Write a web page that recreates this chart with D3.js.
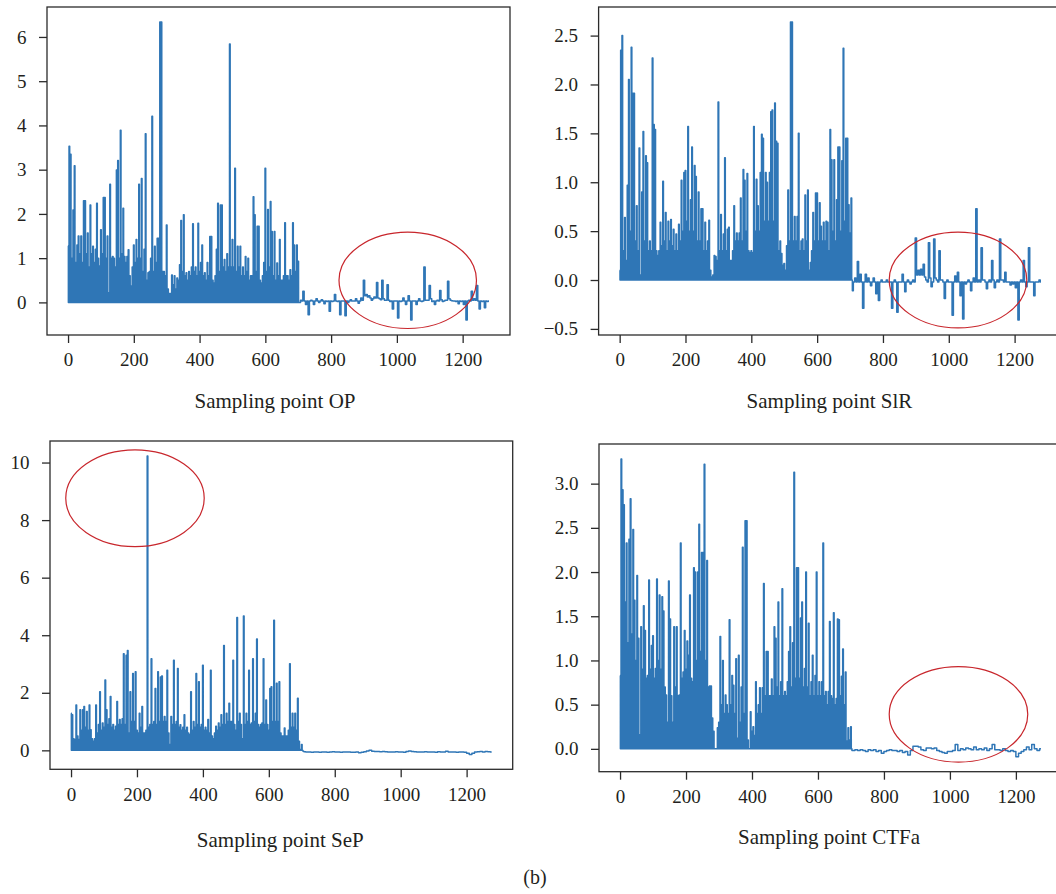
<!DOCTYPE html>
<html><head><meta charset="utf-8">
<script src="https://cdn.jsdelivr.net/npm/d3@7"></script>
<style>
body{margin:0;background:#fff}
svg{display:block}
text{font-family:"Liberation Serif","Times New Roman",serif;fill:#231f20}
</style>
</head><body>
<svg id="chart" width="1056" height="894"></svg>
<script>
// ---- sampling layout of the series (index -> sampling point) ----
const headStep = 2, tailStart = 708;
const opTailStep = 4, slrTailStep = 4, sepTailStep = 8, ctfTailStep = 8;
const xTickValues = [0, 200, 400, 600, 800, 1000, 1200];

// ---- OP ----
const opHead = [1.28,0,3.53,0,3.35,0,1.0,0,2.09,0,3.09,0,0.9,0,1.3,0,1.5,0,1.1,0,1.5,0,0.9,0,2.3,0,2.3,0,1.1,0,1.57,0,0.8,0,2.2,0,1.1,0,1.27,0,0.9,0,1.2,0,2.24,0,1.0,0,0.82,0,1.64,0,1.1,0,2.37,0,2.37,0,1.0,0,1.5,0,0.22,0,2.67,0,1.0,0,1.04,0,1.0,0,0.8,0,2.99,0,3.21,0,1.0,0,3.89,0,1.1,0,2.13,0,1.04,0,0.9,0,1.04,0,1.19,0,0.6,0,0.37,0,0.8,0,1.3,0,0.9,0,1.42,0,1.0,0,2.67,0,1.0,0,2.8,0,0.7,0,1.2,0,3.81,0,0.5,0,0.67,0,0.7,0,1.0,0,4.21,0,0.7,0,1.27,0,0.9,0,1.45,0,1.45,0,6.34,0,6.34,0,0.7,0,0.7,0,0.6,0,1.75,0,0.3,0,0.2,0,0.2,0,0.62,0,0.4,0,0.6,0,0.3,0,0.55,0,0.5,0,0.85,0,1.85,0,0.7,0,1.98,0,0.6,0,0.67,0,0.5,0,0.7,0,0.6,0,0.8,0,1.78,0,0.7,0,0.8,0,0.6,0,1.79,0,0.7,0,0.9,0,1.3,0,0.6,0,0.67,0,0.5,0,0.9,0,0.6,0,1.49,0,1.49,0,0.5,0,0.44,0,0.6,0,1.2,0,2.24,0,0.7,0,2.2,0,2.2,0,0.8,0,0.97,0,0.7,0,1.1,0,0.8,0,5.84,0,0.8,0,1.42,0,0.8,0,3.03,0,0.7,0,1.27,0,0.8,0,1.27,0,0.6,0,0.8,0,0.6,0,1.04,0,0.7,0,1.0,0,0.5,0,0.6,0,0.6,0,2.39,0,1.98,0,0.7,0,1.72,0,1.72,0,0.5,0,0.44,0,0.6,0,0.9,0,3.03,0,0.7,0,2.1,0,0.8,0,2.28,0,1.6,0,0.6,0,1.6,0,0.5,0,0.89,0,0.6,0,1.42,0,0.5,0,0.5,0,0.6,0,1.8,0,0.6,0,0.6,0,0.5,0,0.74,0,0.6,0,1.8,0,1.3,0,0.7,0,1.3,0,0.93,0,0,0];
const opTail = [0.05,0.03,0.25,0.03,-0.05,0.03,-0.28,0.03,0.05,0.03,-0.05,0.03,0.08,0.03,0,0.03,0.06,0.03,-0.03,0.03,0.02,0.03,-0.2,0.03,0.02,0.03,0.18,0.03,0.02,0.03,-0.28,0.03,0.03,0.03,-0.3,0.03,0,0.03,0.06,0.03,0.03,0.03,0.08,0.03,-0.02,0.03,0.1,0.05,0.5,0.15,0.18,0.12,0.15,0.1,0.05,0.08,0.12,0.1,0.45,0.1,0.08,0.06,0.5,0.08,0.05,0.05,0.4,0.05,0.02,0.03,-0.15,0.03,0.03,0.03,-0.35,0.03,0.02,0.03,0.1,0.03,-0.05,0.03,0.15,0.03,-0.4,0.03,0.03,0.03,-0.05,0.03,0.08,0.03,0.02,0.03,0.8,0.05,0.05,0.05,0.38,0.08,0.02,0.03,-0.05,0.03,0.05,0.03,0.27,0.06,0.02,0.03,0.05,0.05,0.48,0.08,0.05,0.04,0.03,0.03,0.02,0.03,-0.03,0.03,0.02,0.03,-0.05,0.03,-0.4,0.03,0.05,0.03,0.25,0.05,0.08,0.05,0.38,0.03,-0.15,0.03,0.02,0.03,-0.12,0.03,0.02,0.03];

// ---- SlR ----
const slrHead = [0.1,0,2.35,0,2.5,0,0.3,0,0.64,0,0.2,0,0.97,0,2.05,0,0.5,0,2.38,0,1.91,0,1.91,0,0.4,0,0.76,0,0.3,0,1.35,0,0.05,0,0.9,0,1.52,0,0.4,0,1.27,0,1.2,0,0.3,0,0.4,0,0.3,0,2.27,0,1.59,0,1.54,0,0.3,0,0.25,0,0.3,0,0.59,0,0.35,0,1.01,0,0.4,0,0.69,0,0.3,0,0.6,0,0.4,0,0.62,0,0.35,0,0.52,0,0.3,0,0.47,0,0.3,0,0.57,0,0.4,0,1.02,0,0.5,0,1.1,0,1.12,0,0.6,0,1.57,0,0.5,0,0.82,0,1.36,0,0.5,0,1.17,0,1.06,0,0.4,0,0.9,0,0.4,0,0.73,0,0.73,0,0.3,0,0.59,0,0.3,0,0.4,0,0.61,0,0.1,0,0.03,0,0.05,0,0.25,0,0.24,0,0.2,0,1.82,0,0.3,0,0.67,0,0.3,0,0.47,0,1.25,0,0.3,0,0.52,0,0.54,0,0.2,0,0.2,0,0.3,0,0.76,0,0.4,0,0.48,0,0.4,0,0.48,0,0.84,0,0.4,0,1.13,0,1.02,0,0.5,0,1.09,0,0.3,0,0.28,0,0.3,0,0.28,0,1.57,0,0.5,0,1.03,0,0.76,0,0.5,0,1.1,0,1.49,0,1.45,0,0.6,0,1.1,0,1.0,0,0.6,0,1.1,0,1.72,0,1.74,0,0.6,0,1.81,0,1.42,0,1.4,0,0.3,0,0.4,0,0.27,0,0.15,0,0.17,0,0.1,0,0.35,0,0.92,0,0.4,0,2.64,0,2.64,0,0.4,0,0.65,0,0.4,0,0.65,0,1.5,0,0.3,0,0.4,0,0.42,0,0.3,0,0.87,0,0.4,0,0.92,0,0.1,0,0.18,0,0.3,0,0.69,0,0.4,0,0.89,0,0.89,0,0.4,0,0.79,0,0.55,0,0.4,0,0.59,0,0.4,0,0.6,0,0.59,0,0.3,0,1.54,0,1.23,0,0.5,0,1.23,0,0.4,0,0.82,0,1.36,0,1.36,0,0.5,0,1.22,0,2.37,0,0.6,0,1.45,0,1.45,0,0.77,0,0.48,0,0.84,0];
const slrTail = [-0.11,-0.02,0.02,-0.02,0.19,-0.02,0.06,-0.02,-0.29,-0.02,0.06,-0.02,0.02,-0.02,-0.06,-0.02,0.02,-0.02,-0.14,-0.02,-0.21,-0.02,0,-0.02,-0.02,-0.02,0,-0.02,-0.02,-0.02,-0.29,-0.02,0,-0.02,-0.33,-0.02,-0.02,-0.02,0.06,-0.02,-0.12,-0.02,0,-0.02,-0.04,-0.02,0,-0.02,0.43,0.05,0.1,0.05,0.11,0.05,0.16,0.03,0,-0.02,0.38,0.02,-0.07,-0.02,0.42,0.02,0,-0.02,0.3,0,0,-0.02,-0.19,-0.02,0,-0.02,-0.02,-0.02,-0.36,-0.02,0.04,-0.02,0.08,-0.02,-0.16,-0.02,-0.4,-0.02,-0.04,-0.02,0,-0.02,-0.11,-0.02,0.02,-0.02,0.73,-0.02,0,-0.02,0.33,0,0,-0.02,-0.09,-0.02,0,-0.02,0.2,0,-0.08,-0.02,0,-0.02,0.42,0,0,-0.02,0.08,-0.02,-0.02,-0.02,-0.05,-0.02,-0.04,-0.02,-0.08,-0.02,-0.41,-0.02,0,-0.02,0.2,-0.02,-0.07,-0.02,0.33,-0.02,-0.02,-0.02,-0.16,-0.02,-0.02,-0.02,0,-0.02];

// ---- SeP ----
const sepHead = [1.29,0,1.24,0,0.4,0,0.38,0,1.58,0,0.5,0,0.38,0,1.41,0,0.7,0,1.41,0,1.52,0,0.8,0,1.35,0,0.7,0,1.58,0,0.72,0,0.4,0,0.32,0,0.4,0,1.58,0,0.6,0,0.9,0,2.04,0,0.7,0,0.95,0,0.8,0,2.44,0,1.41,0,0.9,0,1.1,0,1.87,0,0.8,0,0.9,0,0.7,0,0.84,0,1.7,0,0.9,0,1.07,0,0.9,0,1.1,0,3.36,0,0.9,0,3.3,0,3.47,0,0.6,0,2.04,0,1.0,0,2.67,0,1.0,0,2.73,0,0.7,0,0.6,0,1.29,0,0.8,0,1.52,0,0.6,0,0.6,0,0.7,0,10.23,0,0.8,0,0.9,0,3.18,0,0.9,0,1.0,0,2.15,0,0.9,0,2.73,0,1.0,0,2.55,0,2.58,0,1.0,0,1.18,0,1.0,0,2.78,0,0.6,0,0.2,0,1.18,0,0.9,0,3.13,0,0.9,0,1.0,0,2.84,0,0.8,0,0.89,0,0.7,0,0.8,0,1.24,0,0.7,0,0.8,0,0.6,0,0.55,0,2.04,0,0.7,0,1.0,0,0.8,0,2.67,0,0.9,0,2.38,0,0.8,0,0.9,0,2.96,0,0.7,0,0.8,0,0.7,0,1.07,0,0.6,0,2.78,0,0.5,0,0.4,0,0.6,0,0.84,0,0.7,0,0.95,0,0.8,0,1.24,0,0.9,0,3.64,0,0.9,0,1.29,0,1.0,0,1.64,0,1.0,0,1.0,0,3.13,0,0.9,0,0.7,0,4.62,0,1.0,0,1.29,0,0.9,0,0.4,0,4.67,0,0.9,0,1.29,0,1.0,0,2.78,0,0.9,0,0.95,0,3.18,0,1.0,0,1.29,0,3.87,0,0.9,0,0.8,0,0.9,0,0.95,0,3.18,0,0.9,0,1.75,0,0.9,0,0.7,0,2.15,0,2.21,0,1.0,0,4.52,0,1.0,0,2.33,0,1.0,0,2.38,0,0.6,0,0.5,0,0.5,0,0.78,0,0.5,0,0.5,0,0.7,0,3.01,0,0.8,0,1.29,0,0.8,0,1.29,0,0.7,0,1.81,0,0.32,0,0.03,0,0.2,0,-0.02,-0.04];
const sepTail = [-0.05,-0.06,-0.06,-0.07,-0.06,-0.06,-0.07,-0.06,-0.06,-0.07,-0.06,-0.05,-0.06,-0.06,-0.07,-0.06,-0.06,-0.06,-0.07,-0.07,-0.06,-0.08,-0.07,-0.05,-0.02,0,-0.03,-0.04,-0.04,-0.05,-0.04,-0.05,-0.06,-0.06,-0.06,-0.05,-0.06,-0.06,-0.07,-0.04,-0.02,-0.04,-0.05,-0.06,-0.06,-0.06,-0.05,-0.06,-0.06,-0.06,-0.07,-0.05,-0.06,-0.06,-0.03,-0.06,-0.06,-0.06,-0.07,-0.06,-0.06,-0.07,-0.1,-0.14,-0.1,-0.06,-0.05,-0.04,-0.06,-0.04,-0.05,-0.06];

// ---- CTFa ----
const ctfHead = [0.83,0,3.28,0,2.93,0,2.76,0,1.66,0,2.33,0,1.2,0,2.37,0,2.83,0,1.3,0,2.48,0,1.68,0,1.0,0,1.96,0,1.25,0,0.16,0,1.38,0,0.9,0,1.62,0,1.34,0,0.8,0,0.83,0,1.91,0,0.9,0,1.17,0,1.28,0,0.8,0,0.91,0,1.92,0,1.0,0,1.74,0,0.9,0,1.72,0,1.56,0,0.7,0,0.61,0,0.3,0,1.9,0,1.47,0,0.6,0,0.3,0,1.38,0,0.7,0,1.38,0,0.6,0,0.61,0,2.33,0,0.8,0,0.87,0,1.34,0,0.9,0,1.22,0,1.06,0,1.74,0,0.8,0,0.76,0,2.05,0,2.0,0,1.0,0,2.0,0,2.54,0,1.1,0,2.22,0,2.22,0,3.22,0,1.0,0,2.13,0,0.7,0,0.71,0,0.71,0,0.35,0,0.2,0,0,0,0,0,0.24,0,0.3,0,1.27,0,0.5,0,1.0,0,0.4,0,0.61,0,0.5,0,0.4,0,1.46,0,0.5,0,0.83,0,0.72,0,0.4,0,1.02,0,0.12,0,1.06,0,0.3,0,0.7,0,2.28,0,0.4,0,2.58,0,2.58,0,0.1,0,0,0,0.42,0,0.2,0,0.25,0,0.15,0,0.76,0,0.4,0,0.5,0,0.69,0,0.4,0,0.69,0,1.87,0,0.6,0,1.1,0,1.1,0,0.6,0,0.6,0,0.79,0,0.6,0,1.38,0,1.25,0,0.7,0,1.66,0,0.6,0,0.76,0,1.81,0,0.6,0,0.65,0,0.6,0,0.76,0,1.1,0,1.38,0,0.7,0,1.2,0,3.13,0,0.8,0,2.05,0,2.05,0,0.8,0,1.48,0,1.66,0,0.7,0,0.91,0,2.0,0,0.7,0,1.42,0,0.6,0,0.76,0,1.06,0,0.6,0,0.83,0,2.0,0,0.6,0,0.76,0,0.6,0,0.76,0,2.33,0,0.6,0,0.65,0,0.5,0,0.65,0,1.44,0,0.6,0,0.57,0,1.54,0,0.5,0,0.57,0,1.47,0,1.46,0,0.6,0,0.82,0,1.13,0,0.5,0,0.87,0,0.09,0,0.24,0,0.1,0,0.25,0,-0.02,-0.02];
const ctfTail = [-0.02,-0.01,-0.02,-0.01,-0.02,-0.03,-0.01,-0.02,-0.01,-0.03,-0.02,-0.05,-0.03,-0.02,-0.01,-0.02,-0.02,-0.03,-0.02,-0.04,-0.03,-0.07,-0.02,0.03,0.03,0.02,-0.01,-0.02,0.01,0.01,0,0.01,-0.02,-0.03,-0.04,-0.05,-0.03,-0.03,-0.02,0.05,-0.02,0,-0.01,0.01,0,-0.01,0.02,-0.01,0,-0.01,0.01,-0.02,0,0.05,-0.01,-0.01,-0.02,0,-0.02,-0.03,-0.02,-0.03,-0.09,-0.05,-0.03,-0.01,0.02,-0.01,0.05,0,-0.02,0];

// ---- y tick values ----
const opYTicks = [0,1,2,3,4,5,6];
const slrYTicks = [-0.5,0,0.5,1,1.5,2,2.5];
const sepYTicks = [0,2,4,6,8,10];
const ctfYTicks = [0,0.5,1,1.5,2,2.5,3];

// ---- highlighted regions (data coordinates: cx, cy, rx, ry) ----
const opEllipse = [1033, 0.5, 209, 1.09];
const slrEllipse = [1028, 0.0, 209, 0.49];
const sepEllipse = [194, 8.76, 210, 1.68];
const ctfEllipse = [1026, 0.39, 210, 0.54];

const labels = ["Sampling point OP", "Sampling point SlR", "Sampling point SeP", "Sampling point CTFa"];

const panels = [
  {label: labels[0], head: opHead, tail: opTail, tailStep: opTailStep, yTicks: opYTicks, fmt: d3.format("d"), ell: opEllipse,
   box: {l: 47, r: 510, t: 7, b: 335}, labelX: 275, labelY: 408.3},
  {label: labels[1], head: slrHead, tail: slrTail, tailStep: slrTailStep, yTicks: slrYTicks, fmt: d3.format(".1f"), ell: slrEllipse,
   box: {l: 598.6, r: 1062, t: 7, b: 335}, labelX: 829.4, labelY: 408.3},
  {label: labels[2], head: sepHead, tail: sepTail, tailStep: sepTailStep, yTicks: sepYTicks, fmt: d3.format("d"), ell: sepEllipse,
   box: {l: 50, r: 512.7, t: 441, b: 769.3}, labelX: 280.3, labelY: 846.7},
  {label: labels[3], head: ctfHead, tail: ctfTail, tailStep: ctfTailStep, yTicks: ctfYTicks, fmt: d3.format(".1f"), ell: ctfEllipse,
   box: {l: 599, r: 1062, t: 444, b: 771.7}, labelX: 829, labelY: 844.3}
];

const svg = d3.select("#chart");
const lineColor = "#2f76b6";
const frameColor = "#2b2b2b";

panels.forEach((p, pi) => {
  const pts = p.head.map((v, i) => [i * headStep, v])
    .concat(p.tail.map((v, i) => [tailStart + i * p.tailStep, v]));
  const xExt = d3.extent(pts, d => d[0]);
  const yExt = d3.extent(pts, d => d[1]);
  const xPad = (xExt[1] - xExt[0]) * 0.05, yPad = (yExt[1] - yExt[0]) * 0.05;
  const x = d3.scaleLinear().domain([xExt[0] - xPad, xExt[1] + xPad]).range([p.box.l, p.box.r]);
  const y = d3.scaleLinear().domain([yExt[0] - yPad, yExt[1] + yPad]).range([p.box.b, p.box.t]);

  const g = svg.append("g");
  const clipId = "clip" + pi;
  g.append("clipPath").attr("id", clipId).append("rect")
    .attr("x", p.box.l).attr("y", p.box.t).attr("width", p.box.r - p.box.l).attr("height", p.box.b - p.box.t);

  g.append("path").datum(pts)
    .attr("clip-path", `url(#${clipId})`)
    .attr("fill", "none").attr("stroke", lineColor).attr("stroke-width", 1.5)
    .attr("stroke-linejoin", "round")
    .attr("d", d3.line().curve(d3.curveStep).x(d => x(d[0])).y(d => y(d[1])));

  // highlight ellipse
  const e = p.ell;
  g.append("ellipse")
    .attr("cx", x(e[0])).attr("cy", y(e[1]))
    .attr("rx", x(e[0] + e[2]) - x(e[0])).attr("ry", y(e[1] - e[3]) - y(e[1]))
    .attr("fill", "none").attr("stroke", "#c8262c").attr("stroke-width", 1.2);

  // frame
  g.append("rect").attr("x", p.box.l).attr("y", p.box.t)
    .attr("width", p.box.r - p.box.l).attr("height", p.box.b - p.box.t)
    .attr("fill", "none").attr("stroke", frameColor).attr("stroke-width", 1.3);

  // axes
  const ax = g.append("g").attr("transform", `translate(0,${p.box.b})`)
    .call(d3.axisBottom(x).tickValues(xTickValues).tickFormat(d3.format("d")).tickSize(8).tickSizeOuter(0).tickPadding(10));
  const ay = g.append("g").attr("transform", `translate(${p.box.l},0)`)
    .call(d3.axisLeft(y).tickValues(p.yTicks).tickFormat(p.fmt).tickSize(8).tickSizeOuter(0).tickPadding(12.5));
  [ax, ay].forEach(a => {
    a.select(".domain").remove();
    a.selectAll(".tick line").attr("stroke", frameColor).attr("stroke-width", 1.3);
    a.selectAll(".tick text").attr("font-size", 19).attr("fill", "#231f20")
      .style("font-family", '"Liberation Serif","Times New Roman",serif');
  });

  g.append("text").attr("x", p.labelX).attr("y", p.labelY)
    .attr("text-anchor", "middle").attr("font-size", 21).text(p.label);
});

svg.append("text").attr("x", 535).attr("y", 884).attr("text-anchor", "middle")
  .attr("font-size", 20).text("(b)");
</script>
</body></html>
